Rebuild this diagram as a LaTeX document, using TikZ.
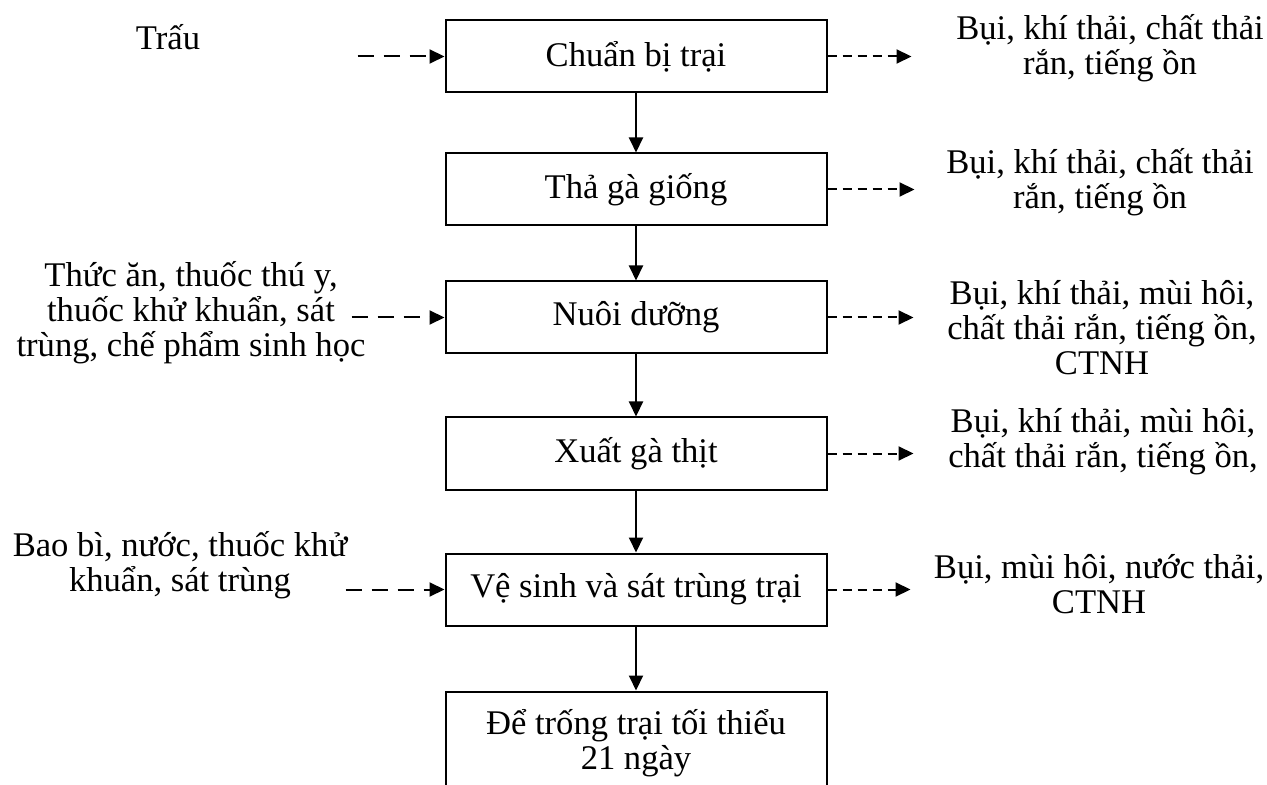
\documentclass[tikz,border=0pt]{standalone}
\usepackage{fontspec}
\setmainfont{Liberation Serif}
\usetikzlibrary{arrows.meta,positioning}

\begin{document}
\begin{tikzpicture}[
  x=0.5pt,y=-0.5pt,
  node distance=30pt,
  font=\fontsize{17.3}{17.5}\selectfont,
  stagebox/.style={draw=black,fill=white,rectangle,align=center,line width=1pt,
    minimum width=190.5pt,minimum height=36pt,inner sep=2pt},
  note/.style={align=center,inner sep=0pt},
  flow/.style={-{Triangle[length=7.5pt,width=7pt]},draw=black,line width=1pt},
  feedin/.style={flow,dash pattern=on 8pt off 5pt},
  emit/.style={flow,dash pattern=on 4.5pt off 3pt}
]
  \useasboundingbox (0,0) rectangle (1267,785);

  % main chain
  \node[stagebox] (prep) at (636,56.5) {Chuẩn bị trại};
  \node[stagebox,below=29.5pt of prep] (stock) {Thả gà giống};
  \node[stagebox,below=27pt of stock] (rear) {Nuôi dưỡng};
  \node[stagebox,below=31pt of rear] (ship) {Xuất gà thịt};
  \node[stagebox,below=31pt of ship] (clean) {Vệ sinh và sát trùng trại};
  \node[stagebox,below=32pt of clean,minimum height=52pt] (rest) {Để trống trại tối thiểu\\21 ngày};

  % inputs
  \node[note] (husk) at (168,37) {Trấu};
  \node[note] (feed) at (191,313) {Thức ăn, thuốc thú y,\\thuốc khử khuẩn, sát\\trùng, chế phẩm sinh học};
  \node[note] (pack) at (180,565) {Bao bì, nước, thuốc khử\\khuẩn, sát trùng};

  % outputs
  \node[note] (waste1) at (1110,48) {Bụi, khí thải, chất thải\\rắn, tiếng ồn};
  \node[note] (waste2) at (1100,182) {Bụi, khí thải, chất thải\\rắn, tiếng ồn};
  \node[note] (waste3) at (1102,328) {Bụi, khí thải, mùi hôi,\\chất thải rắn, tiếng ồn,\\CTNH};
  \node[note] (waste4) at (1103,442) {Bụi, khí thải, mùi hôi,\\chất thải rắn, tiếng ồn,};
  \node[note] (waste5) at (1099,584) {Bụi, mùi hôi, nước thải,\\CTNH};

  \coordinate (huskend) at ([xshift=-43.5pt]prep.west);
  \coordinate (feedend) at ([xshift=-46.5pt]rear.west);
  \coordinate (packend) at ([xshift=-49.5pt]clean.west);
  \coordinate (emit1) at ([xshift=42pt]prep.east);
  \coordinate (emit2) at ([xshift=43.5pt]stock.east);
  \coordinate (emit3) at ([xshift=43pt]rear.east);
  \coordinate (emit4) at ([xshift=43pt]ship.east);
  \coordinate (emit5) at ([xshift=41.5pt]clean.east);

  \draw[flow] (prep) -- (stock);
  \draw[flow] (stock) -- (rear);
  \draw[flow] (rear) -- (ship);
  \draw[flow] (ship) -- (clean);
  \draw[flow] (clean) -- (rest);

  \draw[feedin] (huskend) -- (prep);
  \draw[feedin] (feedend) -- (rear);
  \draw[feedin] (packend) -- (clean);

  \draw[emit] (prep) -- (emit1);
  \draw[emit] (stock) -- (emit2);
  \draw[emit] (rear) -- (emit3);
  \draw[emit] (ship) -- (emit4);
  \draw[emit] (clean) -- (emit5);
\end{tikzpicture}
\end{document}
